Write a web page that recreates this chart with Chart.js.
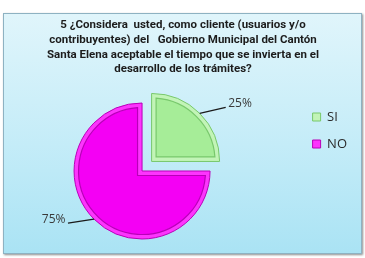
<!DOCTYPE html>
<html>
<head>
<meta charset="utf-8">
<script src="https://cdn.jsdelivr.net/npm/chart.js@4"></script>
<style>
    body { margin: 0; background: #ffffff; }
    #wrap { position: relative; width: 365px; height: 258px; overflow: hidden; }
    #frame {
        position: absolute; left: 3px; top: 13px; width: 357px; height: 239px;
        border: 1px solid #8eb2c2;
        background: linear-gradient(to bottom, #e0f5fb 0%, #c4ecf8 55%, #aae3f4 100%);
        box-shadow: 1px 1px 2px rgba(0, 0, 0, 0.45);
    }
    #title {
        position: absolute; left: 23px; top: 17px; width: 320px;
        text-align: center; white-space: pre;
        font: bold 11.5px "Liberation Sans Narrow", Roboto, sans-serif;
        line-height: 14.8px; color: #1c1c1c;
    }
    /* canvas sticks out 15px on the left so the pie can sit left of centre */
    #chart { position: absolute; left: -15px; top: 0; }
</style>
</head>
<body>
<div id="wrap">
    <div id="frame"></div>
    <canvas id="chart" width="380" height="258"></canvas>
    <div id="title"></div>
</div>
<script>
// Chart data
const titleLines = [
    '5 ¿Considera  usted, como cliente (usuarios y/o',
    'contribuyentes) del   Gobierno Municipal del Cantón',
    'Santa Elena aceptable el tiempo que se invierta en el',
    'desarrollo de los trámites?'
];
const categories = ['SI', 'NO'];
const percentages = [25, 75];

// Slice colours: rim, face and bevel line
const rimColors = ['#c2f4b7', '#fd34fd'];
const faceColors = ['#a6ed98', '#f400f4'];
const edgeColors = ['#78c86c', '#b800b8'];

document.getElementById('title').textContent = titleLines.join('\n');

/**
 * Gives each slice a bevelled look: an inset face with a darker edge line
 */
const bevel = {
    id: 'bevel',
    afterDatasetsDraw(chart) {
        const ctx = chart.ctx;
        const meta = chart.getDatasetMeta(0);
        const d = 4.5;
        ctx.save();
        meta.data.forEach((arc, i) => {
            const p = arc.getProps(['x', 'y', 'startAngle', 'endAngle', 'outerRadius'], true);
            const mid = (p.startAngle + p.endAngle) / 2;
            const shift = (arc.options.offset || 0) / 4;
            const cx = p.x + Math.cos(mid) * shift;
            const cy = p.y + Math.sin(mid) * shift;
            const half = (p.endAngle - p.startAngle) / 2;
            const k = d / Math.sin(half);
            const r2 = p.outerRadius - d;
            const a = Math.asin(d / r2);
            ctx.beginPath();
            ctx.moveTo(cx + Math.cos(mid) * k, cy + Math.sin(mid) * k);
            ctx.arc(cx, cy, r2, p.startAngle + a, p.endAngle - a);
            ctx.closePath();
            ctx.fillStyle = faceColors[i];
            ctx.fill();
            ctx.strokeStyle = edgeColors[i];
            ctx.lineWidth = 1.2;
            ctx.stroke();
        });
        ctx.restore();
    }
};

/**
 * Draws the percentage labels with their leader lines
 */
const leaderLabels = {
    id: 'leaderLabels',
    afterDatasetsDraw(chart) {
        const ctx = chart.ctx;
        const meta = chart.getDatasetMeta(0);
        ctx.save();
        ctx.font = '12px "Open Sans", sans-serif';
        ctx.fillStyle = '#3a3a3a';
        ctx.strokeStyle = '#1a1a1a';
        ctx.lineWidth = 1.2;
        ctx.textBaseline = 'middle';
        meta.data.forEach((arc, i) => {
            const p = arc.getProps(['x', 'y', 'startAngle', 'endAngle', 'outerRadius'], true);
            const mid = (p.startAngle + p.endAngle) / 2;
            const shift = (arc.options.offset || 0) / 4;
            const cos = Math.cos(mid), sin = Math.sin(mid);
            const ex = p.x + cos * (shift + p.outerRadius);
            const ey = p.y + sin * (shift + p.outerRadius);
            const side = cos >= 0 ? 1 : -1;
            const lx = ex + side * 26;
            const ly = ey + sin * 7 - 1;
            ctx.beginPath();
            ctx.moveTo(ex, ey);
            ctx.lineTo(lx, ly);
            ctx.stroke();
            ctx.textAlign = side > 0 ? 'left' : 'right';
            ctx.fillText(percentages[i] + '%', lx + side * 2.5, ly - 3.5);
        });
        ctx.restore();
    }
};

new Chart(document.getElementById('chart'), {
    type: 'pie',
    data: {
        labels: categories,
        datasets: [{
            data: percentages,
            backgroundColor: rimColors,
            borderColor: edgeColors,
            borderWidth: 1,
            offset: [54, 0],
            radius: 68
        }]
    },
    options: {
        responsive: false,
        animation: false,
        layout: {
            padding: { left: 0.5, top: 96.5, right: 8, bottom: 12.5 }
        },
        plugins: {
            title: { display: false },
            tooltip: { enabled: false },
            legend: {
                position: 'right',
                align: 'start',
                labels: {
                    boxWidth: 8,
                    boxHeight: 8,
                    padding: 14,
                    color: '#2a2a2a',
                    font: { family: '"Open Sans", sans-serif', size: 13 }
                }
            }
        }
    },
    plugins: [bevel, leaderLabels]
});
</script>
</body>
</html>
